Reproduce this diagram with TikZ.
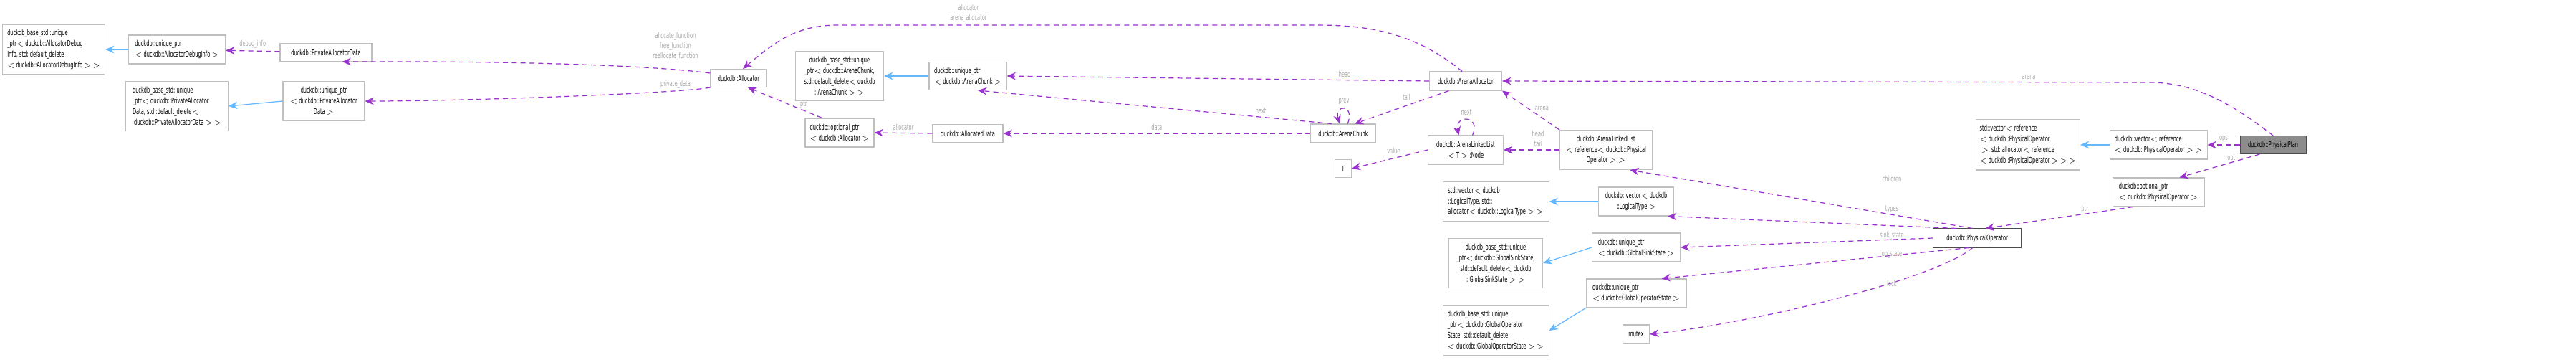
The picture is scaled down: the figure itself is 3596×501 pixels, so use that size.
\documentclass[tikz,border=0pt]{standalone}
\usepackage{fontspec}
\setmainfont[FakeStretch=0.6]{DejaVu Sans}
\usetikzlibrary{arrows.meta,positioning}
\definecolor{edgepurple}{HTML}{9A32CD}
\definecolor{edgeblue}{HTML}{63B8FF}
\definecolor{boxgray}{HTML}{BFBFBF}
\definecolor{lblgray}{HTML}{A8A8A8}
\newcommand{\px}{0.02cm}
\begin{document}
\begin{tikzpicture}[
		x=\px, y=-\px,
		>={Stealth[length=7pt,width=6pt]},
		cls/.style={
			draw=boxgray,
			line width=0.6pt,
			fill=white,
			rectangle,
			inner sep=1pt,
			align=left,
			font=\fontsize{6.3}{8.5}\selectfont
		},
		sz/.style 2 args={minimum width=#1*\px, minimum height=#2*\px},
		uses/.style={->, edgepurple, dashed, line width=0.7pt, dash pattern=on 4pt off 3pt},
		inherits/.style={->, edgeblue, line width=0.7pt},
		lbl/.style={text=lblgray, font=\fontsize{6.3}{8}\selectfont, align=center, inner sep=0pt}
		]
		\useasboundingbox (0,0) rectangle (3596,501);

		% Allocator side
		\node[cls, sz={143}{70}] (BaseDebug) at (75,69) {duckdb\_base\_std::unique\\\_ptr$<$ duckdb::AllocatorDebug\\Info, std::default\_delete\\$<$ duckdb::AllocatorDebugInfo $>$ $>$};
		\node[cls, sz={135}{40}] (UDebug) at (247,69) {duckdb::unique\_ptr\\$<$ duckdb::AllocatorDebugInfo $>$};
		\node[cls, sz={128}{25}] (PrivData) at (455,73) {duckdb::PrivateAllocatorData};
		\node[cls, sz={143}{69}] (BasePriv) at (247,148) {duckdb\_base\_std::unique\\\_ptr$<$ duckdb::PrivateAllocator\\Data, std::default\_delete$<$\\\ duckdb::PrivateAllocatorData $>$ $>$};
		\node[cls, sz={114}{54}, align=center] (UPriv) at (452,141) {duckdb::unique\_ptr\\$<$ duckdb::PrivateAllocator\\Data $>$};
		\node[cls, sz={78}{25}] (Alloc) at (1031,109) {duckdb::Allocator};
		\node[cls, sz={123}{69}, align=center] (BaseChunk) at (1172,106) {duckdb\_base\_std::unique\\\_ptr$<$ duckdb::ArenaChunk,\\std::default\_delete$<$ duckdb\\::ArenaChunk $>$ $>$};
		\node[cls, sz={108}{39}] (UChunk) at (1351,106) {duckdb::unique\_ptr\\$<$ duckdb::ArenaChunk $>$};
		\node[cls, sz={96}{40}] (OptAlloc) at (1172,185) {duckdb::optional\_ptr\\$<$ duckdb::Allocator $>$};
		\node[cls, sz={98}{25}] (AllocData) at (1351,186) {duckdb::AllocatedData};

		% Arena
		\node[cls, sz={101}{26}] (ArenaAlloc) at (2046,113) {duckdb::ArenaAllocator};
		\node[cls, sz={91}{26}] (Chunk) at (1875,186) {duckdb::ArenaChunk};
		\node[cls, sz={105}{40}, align=center] (ListNode) at (2046,209) {duckdb::ArenaLinkedList\\$<$ T $>$::Node};
		\node[cls, sz={23}{25}] (T) at (1875,235) {T};
		\node[cls, sz={129}{55}, align=center] (OpList) at (2242,209) {duckdb::ArenaLinkedList\\$<$ reference$<$ duckdb::Physical\\Operator $>$ $>$};

		% Plan side
		\node[cls, sz={145}{70}] (StdVecRef) at (2831,202) {std::vector$<$ reference\\$<$ duckdb::PhysicalOperator\\\ $>$, std::allocator$<$ reference\\$<$ duckdb::PhysicalOperator $>$ $>$ $>$};
		\node[cls, sz={136}{40}] (VecRef) at (3013,202) {duckdb::vector$<$ reference\\$<$ duckdb::PhysicalOperator $>$ $>$};
		\node[cls, sz={92}{25}, fill=black!45, draw=black!70] (Plan) at (3173,202) {duckdb::PhysicalPlan};
		\node[cls, sz={128}{40}] (OptPhys) at (3013,268) {duckdb::optional\_ptr\\$<$ duckdb::PhysicalOperator $>$};
		\node[cls, sz={123}{26}, draw=black!70] (PhysOp) at (2760,332) {duckdb::PhysicalOperator};

		% Operator members
		\node[cls, sz={148}{55}] (StdVecType) at (2088,281) {std::vector$<$ duckdb\\::LogicalType, std::\\allocator$<$ duckdb::LogicalType $>$ $>$};
		\node[cls, sz={105}{40}, align=center] (VecType) at (2284,281) {duckdb::vector$<$ duckdb\\::LogicalType $>$};
		\node[cls, sz={131}{69}, align=center] (BaseSink) at (2088,367) {duckdb\_base\_std::unique\\\_ptr$<$ duckdb::GlobalSinkState,\\std::default\_delete$<$ duckdb\\::GlobalSinkState $>$ $>$};
		\node[cls, sz={123}{40}] (USink) at (2284,345) {duckdb::unique\_ptr\\$<$ duckdb::GlobalSinkState $>$};
		\node[cls, sz={140}{40}] (UOpState) at (2284,409) {duckdb::unique\_ptr\\$<$ duckdb::GlobalOperatorState $>$};
		\node[cls, sz={148}{70}] (BaseOpState) at (2088,461) {duckdb\_base\_std::unique\\\_ptr$<$ duckdb::GlobalOperator\\State, std::default\_delete\\$<$ duckdb::GlobalOperatorState $>$ $>$};
		\node[cls, sz={37}{26}] (Mutex) at (2284,466) {mutex};

		% Inheritance
		\draw[inherits] (UDebug) -- (BaseDebug);
		\draw[inherits] (UPriv.west) -- (BasePriv.east);
		\draw[inherits] (UChunk) -- (BaseChunk);
		\draw[inherits] (VecRef) -- (StdVecRef);
		\draw[inherits] (VecType) -- (StdVecType);
		\draw[inherits] (USink.west) -- (BaseSink.east);
		\draw[inherits] (UOpState.south west) -- (BaseOpState.east);

		% Members
		\draw[uses] (PrivData) -- (UDebug) node[lbl, pos=0.5, above=2pt] {debug\_info};
		\draw[uses] (Alloc.170) .. controls (900,90) and (700,85) .. (PrivData.-30);
		\node[lbl] (LblFn) at (943,65) {allocate\_function\\free\_function\\reallocate\_function};
		\draw[uses] (Alloc.south west) .. controls (950,130) and (650,141) .. (UPriv.east);
		\node[lbl] (LblPriv) at (943,118) {private\_data};
		\draw[uses] (ArenaAlloc.110) .. controls (1980,50) and (1920,35) .. (1840,35) -- (1170,35) .. controls (1110,35) and (1080,60) .. (Alloc.65);
		\node[lbl] (LblAA) at (1352,19) {allocator\\arena\_allocator};
		\draw[uses] (ArenaAlloc.west) -- (UChunk.east) node[lbl, pos=0.2, above=2pt] {head};
		\draw[uses] (ArenaAlloc.-150) -- (Chunk.40) node[lbl, pos=0.45, above=4pt] {tail};
		\draw[uses] (Chunk.140) -- (UChunk.-55) node[lbl, pos=0.2, above=2pt] {next};
		\draw[uses] (Chunk.65) .. controls (1892,145) and (1862,145) .. (Chunk.110);
		\node[lbl] (LblPrev) at (1876,142) {prev};
		\draw[uses] (Chunk.west) -- (AllocData.east) node[lbl, pos=0.5, above=2pt] {data};
		\draw[uses] (AllocData.west) -- (OptAlloc.east) node[lbl, pos=0.5, above=2pt] {allocator};
		\draw[uses] (OptAlloc.140) -- (Alloc.-45) node[lbl, pos=0.3, above right=0pt] {ptr};
		\draw[uses] (ListNode.65) .. controls (2068,160) and (2030,160) .. (ListNode.115);
		\node[lbl] (LblNext) at (2047,157) {next};
		\draw[uses] (ListNode.west) -- (T.east) node[lbl, pos=0.45, above=3pt] {value};
		\draw[uses] (OpList.west) -- (ListNode.east);
		\node[lbl] (LblHT) at (2147,193) {head\\tail};
		\draw[uses] (OpList.north west) -- (ArenaAlloc.south east) node[lbl, pos=0.45, above right=1pt] {arena};
		\draw[uses] (Plan.north) .. controls (3110,140) and (3060,115) .. (3000,115) -- (ArenaAlloc.east);
		\node[lbl] (LblArena) at (2832,107) {arena};
		\draw[uses] (Plan.west) -- (VecRef.east) node[lbl, pos=0.5, above=2pt] {ops};
		\draw[uses] (Plan.-145) -- (OptPhys.35) node[lbl, pos=0.3, above left=0pt] {root};
		\draw[uses] (OptPhys.-150) -- (PhysOp.50) node[lbl, pos=0.3, above left=0pt] {ptr};
		\draw[uses] (PhysOp.115) -- (OpList.-40);
		\node[lbl] (LblChildren) at (2641,249) {children};
		\draw[uses] (PhysOp.155) -- (VecType.-25);
		\node[lbl] (LblTypes) at (2641,292) {types};
		\draw[uses] (PhysOp.west) -- (USink.east);
		\node[lbl] (LblSink) at (2641,329) {sink\_state};
		\draw[uses] (PhysOp.-130) -- (UOpState.30);
		\node[lbl] (LblOp) at (2641,355) {op\_state};
		\draw[uses] (PhysOp.-115) .. controls (2700,390) and (2450,450) .. (Mutex.east);
		\node[lbl] (LblLock) at (2641,395) {lock};
	\end{tikzpicture}
\end{document}
